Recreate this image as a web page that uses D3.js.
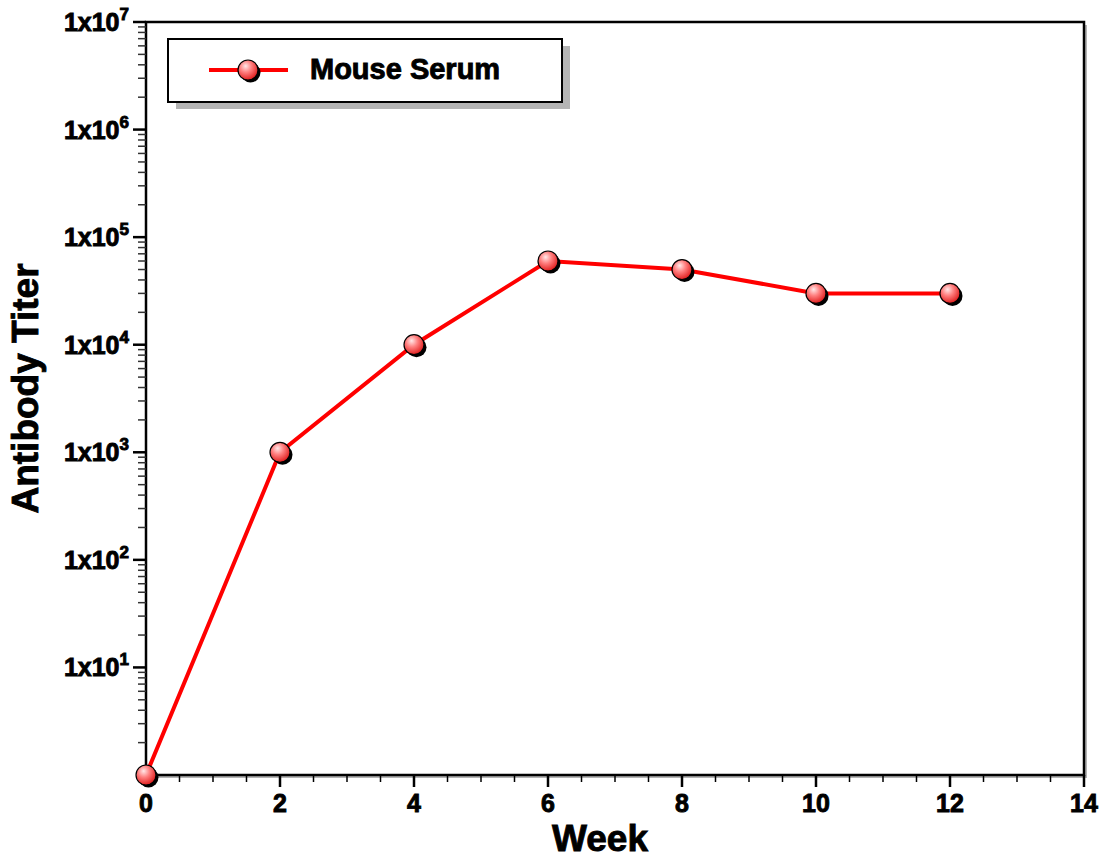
<!DOCTYPE html>
<meta charset="utf-8">
<style>
body { margin: 0; background: #fff; }
text { font-family: "Liberation Sans", Arial, sans-serif; font-weight: bold; fill: #000; stroke: #000; stroke-width: 0.9px; }
</style>
<body>
<svg id="chart" width="1102" height="858"></svg>
<script src="https://d3js.org/d3.v7.min.js"></script>
<script>
// data
var weeks = [0, 2, 4, 6, 8, 10, 12];
var titers = [1, 1000, 10000, 60000, 50000, 30000, 30000];
var seriesName = "Mouse Serum";
var xTicks = [0, 2, 4, 6, 8, 10, 12, 14];
var yExponents = [1, 2, 3, 4, 5, 6, 7];

var svg = d3.select("#chart"),
    margin = {top: 22, right: 18, bottom: 83, left: 146},
    width = +svg.attr("width") - margin.left - margin.right,
    height = +svg.attr("height") - margin.top - margin.bottom;

var x = d3.scaleLinear().domain([0, 14]).range([0, width]);
var y = d3.scaleLog().domain([1, 1e7]).range([height, 0]);

var defs = svg.append("defs");
var rg = defs.append("radialGradient").attr("id", "ball")
  .attr("cx", "40%").attr("cy", "35%").attr("r", "65%")
  .attr("fx", "38%").attr("fy", "30%");
rg.append("stop").attr("offset", "0%").attr("stop-color", "#ffe8e8");
rg.append("stop").attr("offset", "45%").attr("stop-color", "#ff8080");
rg.append("stop").attr("offset", "100%").attr("stop-color", "#e02020");

var g = svg.append("g")
  .attr("transform", "translate(" + margin.left + "," + margin.top + ")");

// frame shadow
g.append("rect").attr("x", 3).attr("y", 3).attr("width", width).attr("height", height)
  .attr("fill", "#b4b4b4");
g.append("rect").attr("width", width).attr("height", height)
  .attr("fill", "#fff").attr("stroke", "#000").attr("stroke-width", 2.5);

// x axis: major + minor ticks
var xMinor = d3.range(0.5, 14, 0.5).filter(function(d) { return d % 2 !== 0; });
g.selectAll(".xminor").data(xMinor).enter().append("line")
  .attr("x1", function(d) { return x(d); }).attr("x2", function(d) { return x(d); })
  .attr("y1", height).attr("y2", height + 7)
  .attr("stroke", "#000").attr("stroke-width", 1.5);
g.selectAll(".xmajor").data(xTicks).enter().append("line")
  .attr("x1", function(d) { return x(d); }).attr("x2", function(d) { return x(d); })
  .attr("y1", height).attr("y2", height + 12)
  .attr("stroke", "#000").attr("stroke-width", 2.5);
g.selectAll(".xlab").data(xTicks).enter().append("text")
  .attr("x", function(d) { return x(d); })
  .attr("y", height + 37)
  .attr("text-anchor", "middle")
  .style("font-size", "25px")
  .text(function(d) { return d; });

// y axis ticks
var yMinor = [];
for (var e = 0; e < 7; e++) {
  for (var m = 2; m <= 9; m++) yMinor.push(m * Math.pow(10, e));
}
g.selectAll(".yminor").data(yMinor).enter().append("line")
  .attr("x1", -8).attr("x2", 0)
  .attr("y1", function(d) { return y(d); }).attr("y2", function(d) { return y(d); })
  .attr("stroke", "#333").attr("stroke-width", 1.5);
g.selectAll(".ymajor").data(yExponents).enter().append("line")
  .attr("x1", -13).attr("x2", 0)
  .attr("y1", function(d) { return y(Math.pow(10, d)); })
  .attr("y2", function(d) { return y(Math.pow(10, d)); })
  .attr("stroke", "#000").attr("stroke-width", 2.5);
var ylab = g.selectAll(".ylab").data(yExponents).enter().append("text")
  .attr("x", -17)
  .attr("y", function(d) { return y(Math.pow(10, d)) + 9; })
  .attr("text-anchor", "end")
  .style("font-size", "25px");
ylab.append("tspan").text("1x10");
ylab.append("tspan").attr("dy", -11).style("font-size", "17px")
  .text(function(d) { return d; });

// axis titles
g.append("text")
  .attr("x", width / 2 - 15).attr("y", height + 76)
  .attr("text-anchor", "middle")
  .style("font-size", "37px")
  .text("Week");
g.append("text")
  .attr("transform", "rotate(-90)")
  .attr("x", -(height / 2) + 10).attr("y", -108)
  .attr("text-anchor", "middle")
  .style("font-size", "37px")
  .text("Antibody Titer");

// line
var pts = weeks.map(function(w, i) { return {w: w, v: titers[i]}; });
var line = d3.line().x(function(d) { return x(d.w); }).y(function(d) { return y(d.v); });
g.append("path").datum(pts)
  .attr("d", line)
  .attr("fill", "none").attr("stroke", "#ff0000").attr("stroke-width", 4);

function marker(sel, cx, cy) {
  sel.append("circle").attr("cx", cx + 2.5).attr("cy", cy + 2.5).attr("r", 10).attr("fill", "#000");
  sel.append("circle").attr("cx", cx).attr("cy", cy).attr("r", 10)
    .attr("fill", "url(#ball)").attr("stroke", "#000").attr("stroke-width", 1.2);
}
pts.forEach(function(d) { marker(g, x(d.w), y(d.v)); });

// legend
var lg = svg.append("g").attr("transform", "translate(168,39)");
lg.append("rect").attr("x", 8).attr("y", 7).attr("width", 394).attr("height", 63).attr("fill", "#b4b4b4");
lg.append("rect").attr("width", 394).attr("height", 63)
  .attr("fill", "#fff").attr("stroke", "#000").attr("stroke-width", 2);
lg.append("line").attr("x1", 41).attr("x2", 120).attr("y1", 31).attr("y2", 31)
  .attr("stroke", "#ff0000").attr("stroke-width", 4);
marker(lg, 80, 31);
lg.append("text").attr("x", 142).attr("y", 40)
  .style("font-size", "29px").text(seriesName);
</script>
</body>
